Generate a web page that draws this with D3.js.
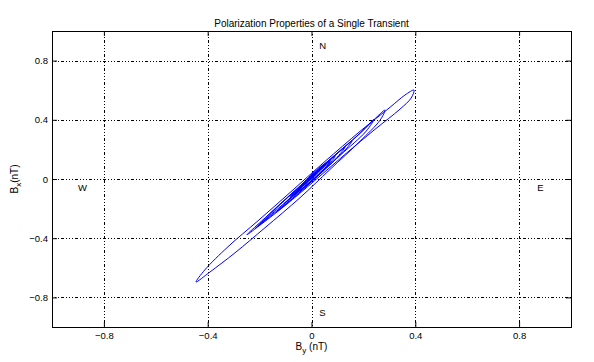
<!DOCTYPE html>
<html>
<head>
<meta charset="utf-8">
<script src="https://cdn.jsdelivr.net/npm/d3@7"></script>
<style>
  body { margin: 0; background: #fff; }
  text { font-family: "Liberation Sans", Arial, sans-serif; fill: #000; }
</style>
</head>
<body>
<svg id="chart"></svg>
<script>
// trace of the transient, B_y (horizontal) and B_x (vertical) in nT
const byValues = [
  -0.037, 0.013, 0.064, 0.033, -0.033, -0.083, -0.052, 0.013, 0.091, 0.056,
  -0.021, -0.106, -0.060, 0.040, 0.129, 0.091, -0.025, -0.141, -0.206, -0.160,
  -0.044, 0.071, 0.187, 0.283, 0.264, 0.187, 0.071, -0.044, -0.179, -0.295,
  -0.391, -0.445, -0.411, -0.322, -0.206, -0.083, 0.052, 0.187, 0.303, 0.360,
  0.395, 0.384, 0.341, 0.245, 0.129, 0.013, -0.102, -0.191, -0.249,
  -0.191, -0.064, 0.071, 0.179, 0.241, 0.210, 0.110, -0.013, -0.129, -0.218,
  -0.168, -0.114, -0.006, 0.091, 0.156, 0.125, 0.033, -0.064, -0.129, -0.083, 0.002,
  0.071, 0.040, -0.025, -0.075, -0.040, 0.002,
  0.033, 0.075, 0.048, -0.013, -0.067, -0.044, 0.010, 0.056, 0.025, -0.029,
  -0.056, -0.021, 0.017
];
const bxValues = [
  -0.037, 0.051, 0.119, 0.058, -0.044, -0.119, -0.064, 0.044, 0.153, 0.078,
  -0.044, -0.166, -0.092, 0.078, 0.214, 0.132, -0.058, -0.227, -0.316, -0.234,
  -0.051, 0.132, 0.309, 0.465, 0.397, 0.255, 0.064, -0.126, -0.329, -0.499,
  -0.628, -0.696, -0.614, -0.458, -0.282, -0.092, 0.119, 0.322, 0.485, 0.567,
  0.601, 0.547, 0.472, 0.336, 0.166, -0.010, -0.180, -0.302, -0.377,
  -0.282, -0.078, 0.132, 0.295, 0.404, 0.322, 0.160, -0.031, -0.200, -0.336,
  -0.255, -0.160, 0.010, 0.160, 0.255, 0.187, 0.037, -0.119, -0.214, -0.132, 0.010,
  0.119, 0.051, -0.051, -0.112, -0.051, 0.010,
  0.064, 0.132, 0.064, -0.031, -0.105, -0.058, 0.031, 0.098, 0.037, -0.044,
  -0.085, -0.024, 0.037
];

const tickValues = [-0.8, -0.4, 0, 0.4, 0.8];
const compassLabels = ["N", "S", "W", "E"];
const compassBy = [0.03, 0.03, -0.9, 0.87];
const compassBx = [0.9, -0.9, -0.06, -0.06];

const width = 594;
const height = 362;
const margin = { top: 31, right: 23, bottom: 35, left: 52 };

const svg = d3.select("#chart").attr("width", width).attr("height", height);

const x = d3.scaleLinear().domain([-1, 1]).range([margin.left, width - margin.right]);
const y = d3.scaleLinear().domain([-1, 1]).range([height - margin.bottom, margin.top]);

const fmt = (d) => (d === 0 ? "0" : d3.format(".1f")(d).replace("-", "\u2212"));

// grid
const grid = svg.append("g")
  .attr("stroke", "#000")
  .attr("stroke-width", 1)
  .attr("stroke-dasharray", "1,2,1,2,1,2,3,2")
  .attr("shape-rendering", "crispEdges");

grid.selectAll(".gx")
  .data(tickValues)
  .join("line")
  .attr("x1", (d) => Math.round(x(d)) + 0.5)
  .attr("x2", (d) => Math.round(x(d)) + 0.5)
  .attr("y1", y(1))
  .attr("y2", y(-1));

grid.selectAll(".gy")
  .data(tickValues)
  .join("line")
  .attr("y1", (d) => Math.round(y(d)) + 0.5)
  .attr("y2", (d) => Math.round(y(d)) + 0.5)
  .attr("x1", x(-1))
  .attr("x2", x(1));

// axes, ticks pointing inward on all four sides
svg.append("g")
  .attr("class", "x-axis")
  .attr("transform", `translate(0,${y(-1)})`)
  .call(d3.axisBottom(x).tickValues(tickValues).tickSize(-5).tickPadding(5).tickFormat(fmt).tickSizeOuter(0));

svg.append("g")
  .attr("transform", `translate(0,${y(1)})`)
  .call(d3.axisTop(x).tickValues(tickValues).tickSize(-5).tickFormat("").tickSizeOuter(0));

svg.append("g")
  .attr("class", "y-axis")
  .attr("transform", `translate(${x(-1)},0)`)
  .call(d3.axisLeft(y).tickValues(tickValues).tickSize(-5).tickPadding(4).tickFormat(fmt).tickSizeOuter(0));

svg.append("g")
  .attr("transform", `translate(${x(1)},0)`)
  .call(d3.axisRight(y).tickValues(tickValues).tickSize(-5).tickFormat("").tickSizeOuter(0));

svg.selectAll(".domain").remove();
svg.selectAll(".tick line").attr("stroke", "#000");
svg.selectAll(".tick text").attr("font-size", 9.5).attr("fill", "#222");

// frame
svg.append("rect")
  .attr("x", x(-1) + 0.5)
  .attr("y", y(1) + 0.5)
  .attr("width", x(1) - x(-1))
  .attr("height", y(-1) - y(1))
  .attr("fill", "none")
  .attr("stroke", "#000")
  .attr("shape-rendering", "crispEdges");

// trace
const points = byValues.map((d, i) => [d, bxValues[i]]);
const line = d3.line()
  .x((d) => x(d[0]))
  .y((d) => y(d[1]))
  .curve(d3.curveCatmullRom.alpha(0.5));

svg.append("path")
  .datum(points)
  .attr("d", line)
  .attr("fill", "none")
  .attr("stroke", "#0000ff")
  .attr("stroke-width", 1);

// compass letters
svg.selectAll(".compass")
  .data(compassLabels)
  .join("text")
  .attr("x", (d, i) => x(compassBy[i]))
  .attr("y", (d, i) => y(compassBx[i]))
  .attr("dy", "0.35em")
  .attr("font-size", 9.5)
  .attr("fill", "#222")
  .text((d) => d);

// title and labels
svg.append("text")
  .attr("x", x(0))
  .attr("y", 27)
  .attr("text-anchor", "middle")
  .attr("font-size", 10)
  .text("Polarization Properties of a Single Transient");

const xl = svg.append("text")
  .attr("x", x(0))
  .attr("y", 350)
  .attr("text-anchor", "middle")
  .attr("font-size", 10);
xl.append("tspan").text("B");
xl.append("tspan").attr("dy", 3).attr("font-size", 8).text("y");
xl.append("tspan").attr("dy", -3).text(" (nT)");

const yl = svg.append("text")
  .attr("transform", `translate(18,${y(0)}) rotate(-90)`)
  .attr("text-anchor", "middle")
  .attr("font-size", 10);
yl.append("tspan").text("B");
yl.append("tspan").attr("dy", 3).attr("font-size", 8).text("x");
yl.append("tspan").attr("dy", -3).text("(nT)");
</script>
</body>
</html>
